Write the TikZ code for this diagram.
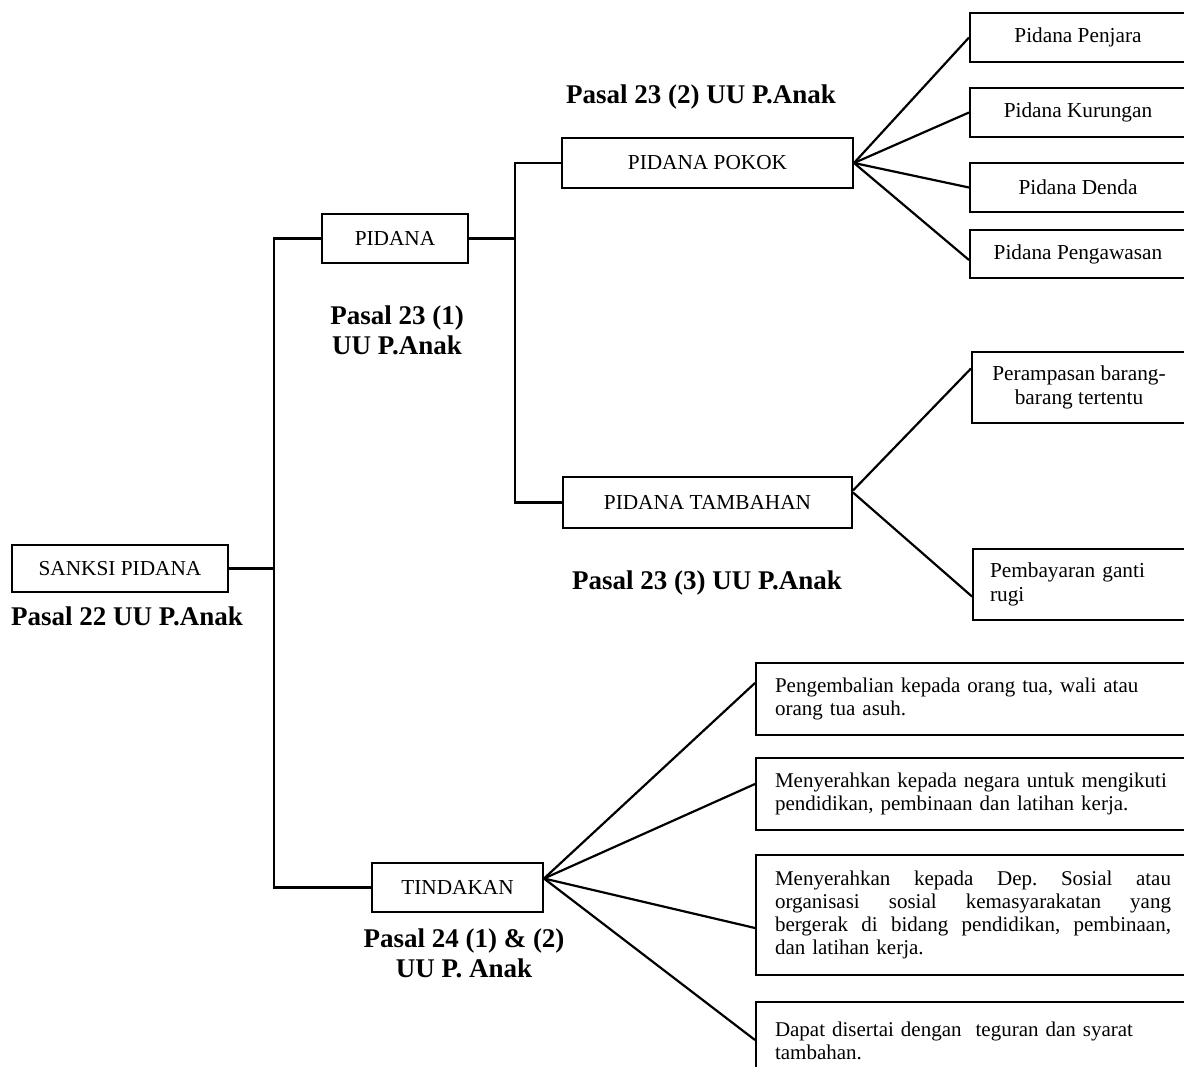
\documentclass[tikz,border=0pt]{standalone}
\usepackage{fontspec}
\setmainfont{Liberation Serif}
\begin{document}
\begin{tikzpicture}[x=1pt,y=-1pt,
  box/.style={draw, line width=2pt, rectangle, inner sep=0pt, font=\fontsize{21.3}{24}\selectfont},
  rbox/.style={box, minimum width=216pt, minimum height=49pt},
  tbox/.style={box, minimum width=434pt, inner xsep=19pt, text width=396pt, align=left, font=\fontsize{21}{23}\selectfont},
  lbl/.style={font=\bfseries\fontsize{27}{30}\selectfont, align=center, inner sep=0pt},
  conn/.style={line width=2.2pt}]
\useasboundingbox (0,0) rectangle (1184,1067);

% main boxes
\node[box, minimum width=216pt, minimum height=47pt] (sanksi) at (120,568.5) {SANKSI PIDANA};
\node[box, minimum width=146pt, minimum height=49pt] (pidana) at (395,238.5) {PIDANA};
\node[box, minimum width=291pt, minimum height=50pt] (pokok) at (707.5,163) {PIDANA POKOK};
\node[box, minimum width=289pt, minimum height=51pt] (tambahan) at (707.5,502.5) {PIDANA TAMBAHAN};
\node[box, minimum width=171pt, minimum height=49pt] (tindakan) at (457.5,887.5) {TINDAKAN};

% right boxes (pidana pokok)
\node[rbox] (penjara) at (1078,37.5) {Pidana Penjara};
\node[rbox] (kurungan) at (1078,112.5) {Pidana Kurungan};
\node[rbox] (denda) at (1078,187.5) {Pidana Denda};
\node[rbox, minimum height=48pt] (pengawasan) at (1078,254) {Pidana Pengawasan};

% right boxes (pidana tambahan)
\node[box, minimum width=214pt, minimum height=71pt, align=center] (perampasan) at (1079,387.5) {Perampasan barang-\\barang tertentu};
\node[box, minimum width=213pt, minimum height=71pt, inner xsep=17pt, text width=179pt, align=left] (pembayaran) at (1079.5,584.5) {Pembayaran ganti\\rugi};

% tindakan boxes
\node[tbox, minimum height=72pt] (t1) at (973,699) {Pengembalian kepada orang tua, wali atau\\orang tua asuh.};
\node[tbox, minimum height=72pt] (t2) at (973,794) {Menyerahkan kepada negara untuk mengikuti\\pendidikan, pembinaan dan latihan kerja.};
\node[tbox, minimum height=120pt] (t3) at (973,915) {\makebox[396pt]{Menyerahkan\hfill kepada\hfill Dep.\hfill Sosial\hfill atau}\\\makebox[396pt]{organisasi\hfill sosial\hfill kemasyarakatan\hfill yang}\\\makebox[396pt]{bergerak\hfill di\hfill bidang\hfill pendidikan,\hfill pembinaan,}\\dan latihan kerja.};
\node[tbox, minimum height=78pt] (t4) at (973,1041) {Dapat disertai dengan\ \ teguran dan syarat\\tambahan.};

% labels
\node[lbl] (l22) at (127,616) {Pasal 22 UU P.Anak};
\node[lbl] (l231) at (397,330) {Pasal 23 (1)\\UU P.Anak};
\node[lbl] (l232) at (701,97) {Pasal 23 (2) UU P.Anak};
\node[lbl] (l233) at (707,583) {Pasal 23 (3) UU P.Anak};
\node[lbl] (l24) at (464,953) {Pasal 24 (1) \& (2)\\UU P. Anak};

% trunks
\coordinate (trunkA) at (274,0);
\coordinate (trunkB) at (515,0);

\draw[conn] (sanksi.east) -- (sanksi.east -| trunkA);
\draw[conn] (pidana.west) -- (pidana.west -| trunkA) -- (tindakan.west -| trunkA) -- (tindakan.west);
\draw[conn] (pidana.east) -- (pidana.east -| trunkB);
\draw[conn] (pokok.west) -- (pokok.west -| trunkB) -- (tambahan.west -| trunkB) -- (tambahan.west);

% pidana pokok fan
\draw[conn] (pokok.east) -- (penjara.west);
\draw[conn] (pokok.east) -- (kurungan.west);
\draw[conn] (pokok.east) -- (denda.west);
\draw[conn] (pokok.east) -- ([yshift=-6pt]pengawasan.west);

% pidana tambahan fan
\draw[conn] ([yshift=12pt]tambahan.east) -- ([yshift=19pt]perampasan.west);
\draw[conn] ([yshift=10pt]tambahan.east) -- ([yshift=-12pt]pembayaran.west);

% tindakan fan
\draw[conn] ([yshift=9pt]tindakan.east) -- ([yshift=16pt]t1.west);
\draw[conn] ([yshift=9pt]tindakan.east) -- ([yshift=10pt]t2.west);
\draw[conn] ([yshift=9pt]tindakan.east) -- ([yshift=-13pt]t3.west);
\draw[conn] ([yshift=9pt]tindakan.east) -- ([yshift=1pt]t4.west);
\end{tikzpicture}
\end{document}
